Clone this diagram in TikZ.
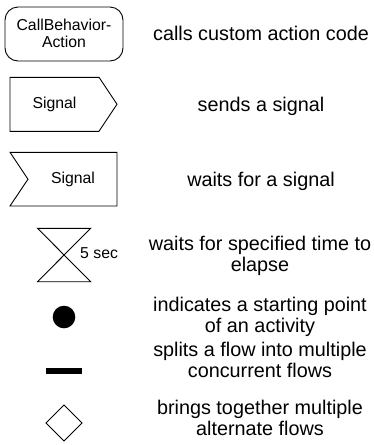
\documentclass[tikz,border=0pt]{standalone}
\usepackage{fontspec}
\setmainfont{Liberation Sans}
\begin{document}
\begin{tikzpicture}[x=1pt,y=-1pt,
  shp/.style={draw=black,line width=0.9pt,line join=miter},
  lbl/.style={inner sep=0pt,font=\fontsize{15.8}{17.7}\selectfont,align=center},
  desc/.style={inner sep=0pt,anchor=base,font=\fontsize{19.8}{21.5}\selectfont,align=center}]
\useasboundingbox (0,0) rectangle (373,445);
% CallBehaviorAction
\draw[shp,rounded corners=13pt] (5,7) rectangle (123,61);
\node[lbl,anchor=base] (cba) at (64,47.7) {CallBehavior-\\Action};
\node[desc] (d1) at (261,40.7) {calls custom action code};
% send signal
\draw[shp] (10,77.3) -- (99,77.3) -- (117,104.3) -- (99,131.3) -- (10,131.3) -- cycle;
\node[lbl,anchor=base] (send) at (54.5,108.3) {Signal};
\node[desc] (d2) at (261,111) {sends a signal};
% accept signal
\draw[shp] (10,152.3) -- (117,152.3) -- (117,206) -- (10,206) -- (28,179.2) -- cycle;
\node[lbl,anchor=base] (acc) at (73,183) {Signal};
\node[desc] (d3) at (261,186) {waits for a signal};
% time event
\draw[shp] (37.5,228.3) -- (90.7,228.3) -- (37.5,281.7) -- (90.7,281.7) -- cycle;
\node[lbl,anchor=base west] (tm) at (80,258) {5 sec};
\node[desc] (d4) at (260,271.5) {waits for specified time to\\elapse};
% initial node
\fill[black] (64,317) circle (11.3);
\node[desc] (d5) at (260,332.5) {indicates a starting point\\of an activity};
% fork bar
\fill[black] (46,367.5) rectangle (82,373.5);
\node[desc] (d6) at (260,377.5) {splits a flow into multiple\\concurrent flows};
% merge diamond
\draw[shp] (64,405) -- (82,423) -- (64,441) -- (46,423) -- cycle;
\node[desc] (d7) at (260,435.5) {brings together multiple\\alternate flows};
\end{tikzpicture}
\end{document}
